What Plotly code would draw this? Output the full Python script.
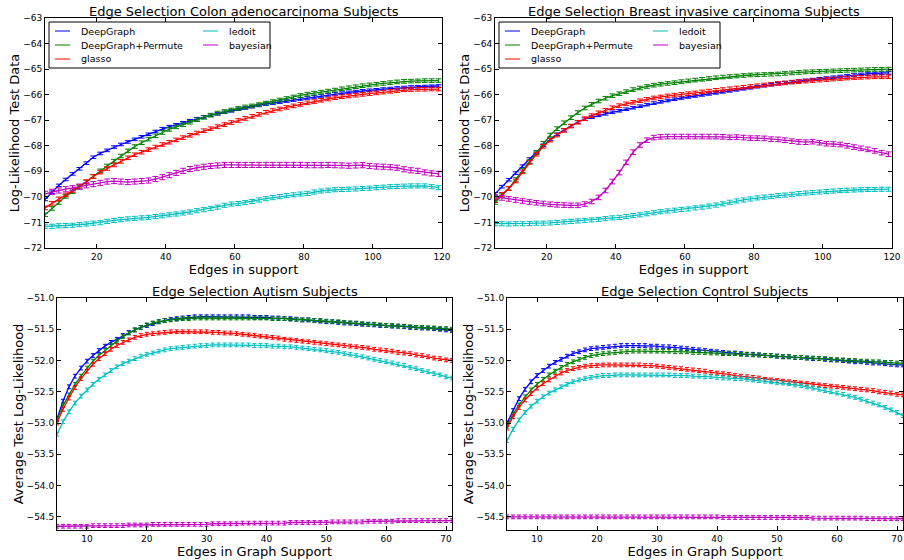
import plotly.graph_objects as go

W, H = 904, 560

methods = ["DeepGraph", "DeepGraph+Permute", "glasso", "ledoit", "bayesian"]
colors = ["#0000ff", "#008000", "#ff0000", "#00bfbf", "#bf00bf"]
legend_colors = ["rgba(0,0,255,0.5)", "rgba(0,128,0,0.5)", "rgba(255,0,0,0.5)",
                 "rgba(0,191,191,0.5)", "rgba(191,0,191,0.5)"]

titles = ["Edge Selection Colon adenocarcinoma Subjects",
          "Edge Selection Breast invasive carcinoma Subjects",
          "Edge Selection Autism Subjects",
          "Edge Selection Control Subjects"]
x_titles = ["Edges in support", "Edges in support",
            "Edges in Graph Support", "Edges in Graph Support"]
y_titles = ["Log-Likelihood Test Data", "Log-Likelihood Test Data",
            "Average Test Log-Likelihood", "Average Test Log-Likelihood"]

x_top = list(range(5, 120, 2))
x_bottom = list(range(5, 72))

top_y_ticks = [-63, -64, -65, -66, -67, -68, -69, -70, -71, -72]
top_x_ticks = [20, 40, 60, 80, 100, 120]
bottom_y_ticks = [-51.0, -51.5, -52.0, -52.5, -53.0, -53.5, -54.0, -54.5]
bottom_x_ticks = [10, 20, 30, 40, 50, 60, 70]

# ---------------- Colon adenocarcinoma ----------------
colon_deepgraph = [
    -70.10, -69.82, -69.55, -69.32, -69.10, -68.90, -68.68, -68.45, -68.30, -68.18,
    -68.05, -67.95, -67.85, -67.75, -67.65, -67.55, -67.44, -67.33, -67.25, -67.18,
    -67.10, -67.02, -66.94, -66.87, -66.81, -66.75, -66.69, -66.63, -66.57, -66.52,
    -66.47, -66.42, -66.37, -66.33, -66.29, -66.25, -66.21, -66.17, -66.13, -66.09,
    -66.05, -66.01, -65.97, -65.94, -65.91, -65.88, -65.85, -65.83, -65.81, -65.78,
    -65.76, -65.74, -65.72, -65.70, -65.69, -65.68, -65.67, -65.66]
colon_permute = [
    -70.70, -70.45, -70.22, -69.98, -69.80, -69.62, -69.42, -69.20, -68.98, -68.79,
    -68.60, -68.40, -68.20, -68.03, -67.88, -67.74, -67.61, -67.48, -67.36, -67.26,
    -67.18, -67.08, -66.98, -66.89, -66.80, -66.72, -66.66, -66.60, -66.54, -66.48,
    -66.44, -66.39, -66.33, -66.27, -66.21, -66.15, -66.09, -66.03, -65.98, -65.94,
    -65.90, -65.86, -65.82, -65.77, -65.73, -65.69, -65.65, -65.62, -65.59, -65.56,
    -65.53, -65.50, -65.48, -65.47, -65.46, -65.45, -65.45, -65.45]
colon_glasso = [
    -70.43, -70.25, -70.08, -69.92, -69.75, -69.58, -69.40, -69.20, -69.03, -68.89,
    -68.75, -68.61, -68.47, -68.35, -68.25, -68.15, -68.05, -67.95, -67.86, -67.77,
    -67.68, -67.59, -67.50, -67.41, -67.33, -67.25, -67.17, -67.09, -67.01, -66.93,
    -66.85, -66.77, -66.69, -66.62, -66.56, -66.50, -66.44, -66.38, -66.32, -66.27,
    -66.22, -66.17, -66.12, -66.08, -66.05, -66.02, -65.99, -65.96, -65.93, -65.90,
    -65.87, -65.84, -65.81, -65.80, -65.79, -65.79, -65.78, -65.78]
colon_ledoit = [
    -71.15, -71.15, -71.13, -71.12, -71.11, -71.08, -71.06, -71.03, -71.01, -70.96,
    -70.92, -70.89, -70.86, -70.84, -70.82, -70.80, -70.77, -70.74, -70.70, -70.67,
    -70.63, -70.59, -70.54, -70.50, -70.45, -70.40, -70.33, -70.28, -70.26, -70.22,
    -70.18, -70.12, -70.07, -70.03, -69.99, -69.95, -69.92, -69.89, -69.86, -69.81,
    -69.77, -69.74, -69.72, -69.71, -69.70, -69.69, -69.67, -69.66, -69.64, -69.62,
    -69.60, -69.59, -69.58, -69.57, -69.57, -69.57, -69.60, -69.64]
colon_bayesian = [
    -69.88, -69.80, -69.75, -69.70, -69.66, -69.60, -69.55, -69.50, -69.45, -69.40,
    -69.38, -69.40, -69.42, -69.40, -69.38, -69.36, -69.30, -69.23, -69.15, -69.06,
    -68.98, -68.91, -68.86, -68.82, -68.79, -68.77, -68.75, -68.75, -68.75, -68.75,
    -68.75, -68.75, -68.75, -68.75, -68.75, -68.75, -68.75, -68.75, -68.76, -68.76,
    -68.76, -68.75, -68.76, -68.77, -68.78, -68.77, -68.76, -68.79, -68.81, -68.82,
    -68.84, -68.86, -68.92, -68.96, -68.98, -69.04, -69.08, -69.10]
colon_err = [0.05, 0.07, 0.07, 0.08, 0.1]

# ---------------- Breast invasive carcinoma ----------------
breast_deepgraph = [
    -69.88, -69.60, -69.33, -69.07, -68.80, -68.52, -68.25, -67.98, -67.75, -67.55,
    -67.38, -67.22, -67.07, -66.96, -66.88, -66.81, -66.75, -66.69, -66.63, -66.57,
    -66.51, -66.45, -66.39, -66.33, -66.28, -66.23, -66.18, -66.13, -66.09, -66.05,
    -66.01, -65.97, -65.93, -65.89, -65.85, -65.81, -65.77, -65.73, -65.69, -65.65,
    -65.61, -65.57, -65.53, -65.50, -65.47, -65.44, -65.41, -65.38, -65.35, -65.32,
    -65.29, -65.26, -65.23, -65.21, -65.19, -65.17, -65.16, -65.15]
breast_permute = [
    -70.22, -69.95, -69.67, -69.32, -68.97, -68.62, -68.27, -67.90, -67.58, -67.33,
    -67.10, -66.90, -66.70, -66.52, -66.38, -66.25, -66.14, -66.04, -65.96, -65.88,
    -65.80, -65.74, -65.68, -65.63, -65.59, -65.56, -65.53, -65.49, -65.46, -65.43,
    -65.40, -65.37, -65.34, -65.31, -65.29, -65.27, -65.25, -65.23, -65.22, -65.21,
    -65.20, -65.19, -65.17, -65.15, -65.13, -65.11, -65.10, -65.09, -65.08, -65.07,
    -65.06, -65.05, -65.04, -65.03, -65.02, -65.01, -65.01, -65.00]
breast_glasso = [
    -70.15, -69.90, -69.67, -69.38, -69.02, -68.65, -68.33, -68.02, -67.78, -67.58,
    -67.40, -67.23, -67.08, -66.94, -66.82, -66.71, -66.61, -66.51, -66.43, -66.36,
    -66.30, -66.24, -66.18, -66.13, -66.09, -66.05, -66.02, -65.99, -65.96, -65.93,
    -65.89, -65.86, -65.83, -65.80, -65.77, -65.74, -65.71, -65.68, -65.65, -65.62,
    -65.59, -65.56, -65.54, -65.51, -65.49, -65.47, -65.45, -65.43, -65.41, -65.39,
    -65.37, -65.35, -65.33, -65.32, -65.31, -65.30, -65.30, -65.30]
breast_ledoit = [
    -71.05, -71.05, -71.06, -71.05, -71.05, -71.04, -71.03, -71.03, -71.02, -71.00,
    -70.98, -70.96, -70.94, -70.92, -70.90, -70.88, -70.85, -70.82, -70.80, -70.77,
    -70.73, -70.70, -70.66, -70.62, -70.58, -70.55, -70.52, -70.49, -70.47, -70.43,
    -70.40, -70.36, -70.32, -70.27, -70.21, -70.16, -70.12, -70.08, -70.04, -70.01,
    -69.98, -69.95, -69.93, -69.90, -69.87, -69.85, -69.83, -69.81, -69.79, -69.77,
    -69.75, -69.74, -69.73, -69.72, -69.71, -69.71, -69.70, -69.70]
breast_bayesian = [
    -70.00, -70.04, -70.08, -70.12, -70.16, -70.20, -70.23, -70.26, -70.29, -70.31,
    -70.32, -70.33, -70.33, -70.28, -70.18, -70.02, -69.75, -69.40, -69.05, -68.65,
    -68.25, -67.97, -67.78, -67.68, -67.65, -67.64, -67.64, -67.64, -67.64, -67.64,
    -67.64, -67.64, -67.64, -67.65, -67.67, -67.66, -67.68, -67.70, -67.70, -67.71,
    -67.74, -67.75, -67.78, -67.82, -67.85, -67.86, -67.84, -67.88, -67.92, -67.93,
    -67.95, -68.00, -68.05, -68.10, -68.14, -68.20, -68.27, -68.33]
breast_err = [0.05, 0.07, 0.07, 0.08, 0.09]

# ---------------- Autism ----------------
autism_deepgraph = [
    -52.93, -52.65, -52.42, -52.25, -52.12, -52.01, -51.92, -51.84, -51.77, -51.71,
    -51.66, -51.60, -51.55, -51.51, -51.47, -51.44, -51.41, -51.38, -51.36, -51.34,
    -51.33, -51.32, -51.31, -51.30, -51.30, -51.30, -51.30, -51.30, -51.30, -51.30,
    -51.30, -51.30, -51.30, -51.31, -51.31, -51.31, -51.32, -51.32, -51.33, -51.33,
    -51.34, -51.35, -51.35, -51.36, -51.37, -51.38, -51.38, -51.39, -51.40, -51.40,
    -51.41, -51.42, -51.42, -51.43, -51.44, -51.44, -51.45, -51.45, -51.46, -51.47,
    -51.47, -51.48, -51.48, -51.49, -51.50, -51.51, -51.52]
autism_permute = [
    -52.95, -52.72, -52.55, -52.38, -52.25, -52.12, -52.01, -51.92, -51.84, -51.76,
    -51.69, -51.62, -51.56, -51.51, -51.47, -51.43, -51.40, -51.38, -51.36, -51.35,
    -51.34, -51.33, -51.33, -51.32, -51.32, -51.32, -51.32, -51.32, -51.32, -51.32,
    -51.32, -51.32, -51.32, -51.32, -51.32, -51.32, -51.33, -51.33, -51.33, -51.34,
    -51.34, -51.35, -51.35, -51.36, -51.36, -51.37, -51.38, -51.38, -51.39, -51.40,
    -51.40, -51.41, -51.42, -51.42, -51.43, -51.44, -51.44, -51.45, -51.45, -51.46,
    -51.47, -51.47, -51.48, -51.48, -51.49, -51.49, -51.50]
autism_glasso = [
    -53.00, -52.78, -52.60, -52.43, -52.29, -52.17, -52.06, -51.97, -51.89, -51.82,
    -51.76, -51.71, -51.67, -51.63, -51.60, -51.58, -51.57, -51.56, -51.55, -51.54,
    -51.54, -51.54, -51.54, -51.54, -51.54, -51.54, -51.55, -51.55, -51.56, -51.56,
    -51.57, -51.58, -51.59, -51.60, -51.61, -51.62, -51.63, -51.64, -51.66, -51.67,
    -51.68, -51.69, -51.70, -51.71, -51.72, -51.73, -51.74, -51.75, -51.76, -51.77,
    -51.78, -51.79, -51.80, -51.82, -51.83, -51.84, -51.85, -51.87, -51.88, -51.89,
    -51.91, -51.92, -51.94, -51.96, -51.97, -51.99, -52.00]
autism_ledoit = [
    -53.18, -52.98, -52.82, -52.68, -52.57, -52.47, -52.38, -52.30, -52.23, -52.16,
    -52.10, -52.05, -52.01, -51.97, -51.93, -51.90, -51.88, -51.85, -51.83, -51.81,
    -51.80, -51.79, -51.78, -51.77, -51.76, -51.76, -51.75, -51.75, -51.75, -51.75,
    -51.75, -51.75, -51.75, -51.76, -51.76, -51.76, -51.77, -51.77, -51.78, -51.78,
    -51.79, -51.80, -51.81, -51.82, -51.83, -51.84, -51.86, -51.87, -51.89, -51.90,
    -51.92, -51.94, -51.96, -51.98, -52.00, -52.02, -52.04, -52.06, -52.08, -52.11,
    -52.13, -52.16, -52.18, -52.21, -52.23, -52.26, -52.28]
autism_bayesian = [
    -54.65, -54.65, -54.65, -54.65, -54.65, -54.65, -54.64, -54.64, -54.64, -54.64,
    -54.64, -54.64, -54.63, -54.63, -54.63, -54.63, -54.62, -54.62, -54.62, -54.62,
    -54.62, -54.62, -54.62, -54.62, -54.62, -54.62, -54.61, -54.61, -54.61, -54.61,
    -54.61, -54.60, -54.60, -54.60, -54.60, -54.60, -54.60, -54.60, -54.60, -54.59,
    -54.59, -54.59, -54.59, -54.59, -54.59, -54.59, -54.58, -54.58, -54.58, -54.58,
    -54.58, -54.58, -54.57, -54.57, -54.57, -54.57, -54.57, -54.56, -54.56, -54.56,
    -54.56, -54.56, -54.56, -54.56, -54.56, -54.56, -54.56]
autism_err = [0.03, 0.03, 0.03, 0.03, 0.03]

# ---------------- Control ----------------
control_deepgraph = [
    -53.00, -52.80, -52.61, -52.46, -52.34, -52.24, -52.16, -52.09, -52.03, -51.98,
    -51.93, -51.89, -51.86, -51.83, -51.81, -51.80, -51.79, -51.78, -51.77, -51.76,
    -51.76, -51.76, -51.76, -51.76, -51.77, -51.77, -51.78, -51.78, -51.79, -51.80,
    -51.81, -51.82, -51.83, -51.84, -51.85, -51.86, -51.87, -51.88, -51.88, -51.89,
    -51.90, -51.90, -51.91, -51.92, -51.92, -51.93, -51.94, -51.94, -51.95, -51.95,
    -51.96, -51.97, -51.97, -51.98, -51.99, -51.99, -52.00, -52.01, -52.02, -52.02,
    -52.03, -52.04, -52.04, -52.05, -52.06, -52.07, -52.07]
control_permute = [
    -53.05, -52.86, -52.71, -52.58, -52.47, -52.38, -52.30, -52.23, -52.17, -52.11,
    -52.06, -52.02, -51.98, -51.95, -51.92, -51.90, -51.89, -51.88, -51.87, -51.86,
    -51.86, -51.85, -51.85, -51.85, -51.85, -51.85, -51.85, -51.85, -51.86, -51.86,
    -51.86, -51.87, -51.87, -51.87, -51.88, -51.88, -51.89, -51.89, -51.89, -51.90,
    -51.90, -51.91, -51.91, -51.92, -51.92, -51.93, -51.94, -51.94, -51.95, -51.95,
    -51.96, -51.96, -51.97, -51.97, -51.98, -51.99, -51.99, -52.00, -52.00, -52.01,
    -52.01, -52.02, -52.02, -52.03, -52.03, -52.04, -52.04]
control_glasso = [
    -53.08, -52.90, -52.75, -52.63, -52.53, -52.44, -52.37, -52.31, -52.25, -52.20,
    -52.16, -52.13, -52.11, -52.09, -52.08, -52.08, -52.07, -52.07, -52.07, -52.07,
    -52.07, -52.07, -52.07, -52.08, -52.08, -52.09, -52.10, -52.11, -52.12, -52.13,
    -52.14, -52.15, -52.16, -52.17, -52.19, -52.20, -52.21, -52.22, -52.24, -52.25,
    -52.26, -52.27, -52.28, -52.30, -52.31, -52.32, -52.33, -52.34, -52.35, -52.36,
    -52.37, -52.38, -52.39, -52.40, -52.41, -52.42, -52.43, -52.44, -52.45, -52.46,
    -52.47, -52.48, -52.50, -52.51, -52.52, -52.54, -52.55]
control_ledoit = [
    -53.28, -53.10, -52.95, -52.83, -52.73, -52.65, -52.58, -52.52, -52.47, -52.42,
    -52.38, -52.34, -52.31, -52.29, -52.27, -52.25, -52.24, -52.24, -52.23, -52.23,
    -52.23, -52.23, -52.23, -52.23, -52.23, -52.23, -52.23, -52.23, -52.24, -52.24,
    -52.24, -52.25, -52.25, -52.26, -52.26, -52.27, -52.28, -52.28, -52.29, -52.29,
    -52.30, -52.31, -52.32, -52.33, -52.34, -52.35, -52.36, -52.37, -52.39, -52.40,
    -52.42, -52.44, -52.46, -52.48, -52.50, -52.52, -52.54, -52.57, -52.59, -52.62,
    -52.65, -52.68, -52.71, -52.75, -52.79, -52.83, -52.88]
control_bayesian = [
    -54.50, -54.50, -54.50, -54.50, -54.50, -54.50, -54.50, -54.50, -54.50, -54.50,
    -54.50, -54.50, -54.50, -54.50, -54.50, -54.50, -54.50, -54.50, -54.50, -54.50,
    -54.50, -54.50, -54.50, -54.50, -54.50, -54.50, -54.50, -54.50, -54.50, -54.50,
    -54.50, -54.50, -54.50, -54.50, -54.50, -54.50, -54.51, -54.51, -54.51, -54.51,
    -54.51, -54.51, -54.51, -54.51, -54.51, -54.51, -54.51, -54.51, -54.51, -54.51,
    -54.51, -54.52, -54.52, -54.52, -54.52, -54.52, -54.52, -54.52, -54.52, -54.52,
    -54.53, -54.53, -54.53, -54.53, -54.53, -54.53, -54.53]
control_err = [0.03, 0.03, 0.03, 0.03, 0.03]

panels = [
    (x_top, [colon_deepgraph, colon_permute, colon_glasso, colon_ledoit, colon_bayesian], colon_err),
    (x_top, [breast_deepgraph, breast_permute, breast_glasso, breast_ledoit, breast_bayesian], breast_err),
    (x_bottom, [autism_deepgraph, autism_permute, autism_glasso, autism_ledoit, autism_bayesian], autism_err),
    (x_bottom, [control_deepgraph, control_permute, control_glasso, control_ledoit, control_bayesian], control_err),
]

# pixel boxes of the four plot areas: (left, right, top, bottom)
boxes = [(45, 442, 18, 248), (495, 892, 18, 248), (57, 452, 298, 530), (507, 903, 298, 530)]
x_ranges = [[5, 120], [5, 120], [5, 71], [5, 71]]
y_ranges = [[-72, -63], [-72, -63], [-54.71, -51.0], [-54.71, -51.0]]

FONT = "DejaVu Sans"
fig = go.Figure()

for p, (xs, series, errs) in enumerate(panels):
    ax = "" if p == 0 else str(p + 1)
    for k in range(5):
        fig.add_trace(go.Scatter(
            x=xs, y=series[k], mode="lines", name=methods[k],
            xaxis="x" + ax, yaxis="y" + ax, showlegend=False,
            line=dict(color=colors[k], width=1.3),
            error_y=dict(type="constant", value=errs[k], color=colors[k],
                         thickness=1, width=3 if p < 2 else 2),
        ))

layout = dict(
    width=W, height=H, margin=dict(l=0, r=0, t=0, b=0),
    paper_bgcolor="white", plot_bgcolor="white",
    font=dict(family=FONT, color="black", size=10),
    showlegend=False,
)

for p in range(4):
    l, r, t, b = boxes[p]
    ax = "" if p == 0 else str(p + 1)
    common = dict(showline=True, linecolor="black", linewidth=1, mirror="allticks",
                  ticks="inside", ticklen=4, tickwidth=1, tickcolor="black",
                  showgrid=False, zeroline=False, tickfont=dict(size=9, family=FONT),
                  automargin=False)
    xt = top_x_ticks if p < 2 else bottom_x_ticks
    yt = top_y_ticks if p < 2 else bottom_y_ticks
    layout["xaxis" + ax] = dict(
        common, domain=[l / W, r / W], range=x_ranges[p], anchor="y" + ax,
        tickvals=xt, ticktext=[str(v) for v in xt],
        title=dict(text=x_titles[p], font=dict(size=13, family=FONT), standoff=2))
    layout["yaxis" + ax] = dict(
        common, domain=[1 - b / H, 1 - t / H], range=y_ranges[p], anchor="x" + ax,
        tickvals=yt, tickformat=".0f" if p < 2 else ".1f",
        title=dict(text=y_titles[p], font=dict(size=13, family=FONT), standoff=0))

annotations = []
shapes = []
for p in range(4):
    l, r, t, b = boxes[p]
    annotations.append(dict(
        text=titles[p], x=(l + r) / 2 / W, y=1 - (t - 7) / H, xref="paper", yref="paper",
        xanchor="center", yanchor="middle", showarrow=False,
        font=dict(size=13, family=FONT, color="black")))

# legends in the two top panels (two columns, framed)
for p in range(2):
    l, r, t, b = boxes[p]
    bx0, by0 = l + 4, t + 4
    shapes.append(dict(type="rect", xref="paper", yref="paper",
                       x0=bx0 / W, x1=(bx0 + 221) / W, y0=1 - (by0 + 46) / H, y1=1 - by0 / H,
                       line=dict(color="black", width=1), fillcolor="white", layer="above"))
    for k in range(5):
        col, row = (0, k) if k < 3 else (1, k - 3)
        lx = bx0 + 6 + col * 148
        ly = by0 + 9 + row * 14
        shapes.append(dict(type="line", xref="paper", yref="paper",
                           x0=lx / W, x1=(lx + 15) / W, y0=1 - ly / H, y1=1 - ly / H,
                           line=dict(color=legend_colors[k], width=2), layer="above"))
        annotations.append(dict(
            text=methods[k], x=(lx + 24) / W, y=1 - ly / H, xref="paper", yref="paper",
            xanchor="left", yanchor="middle", showarrow=False,
            font=dict(size=9.5, family=FONT, color="black")))

layout["annotations"] = annotations
layout["shapes"] = shapes
fig.update_layout(**layout)

fig.write_html("out.html", config={"displayModeBar": False},
               post_script="document.body.style.margin='0';")
